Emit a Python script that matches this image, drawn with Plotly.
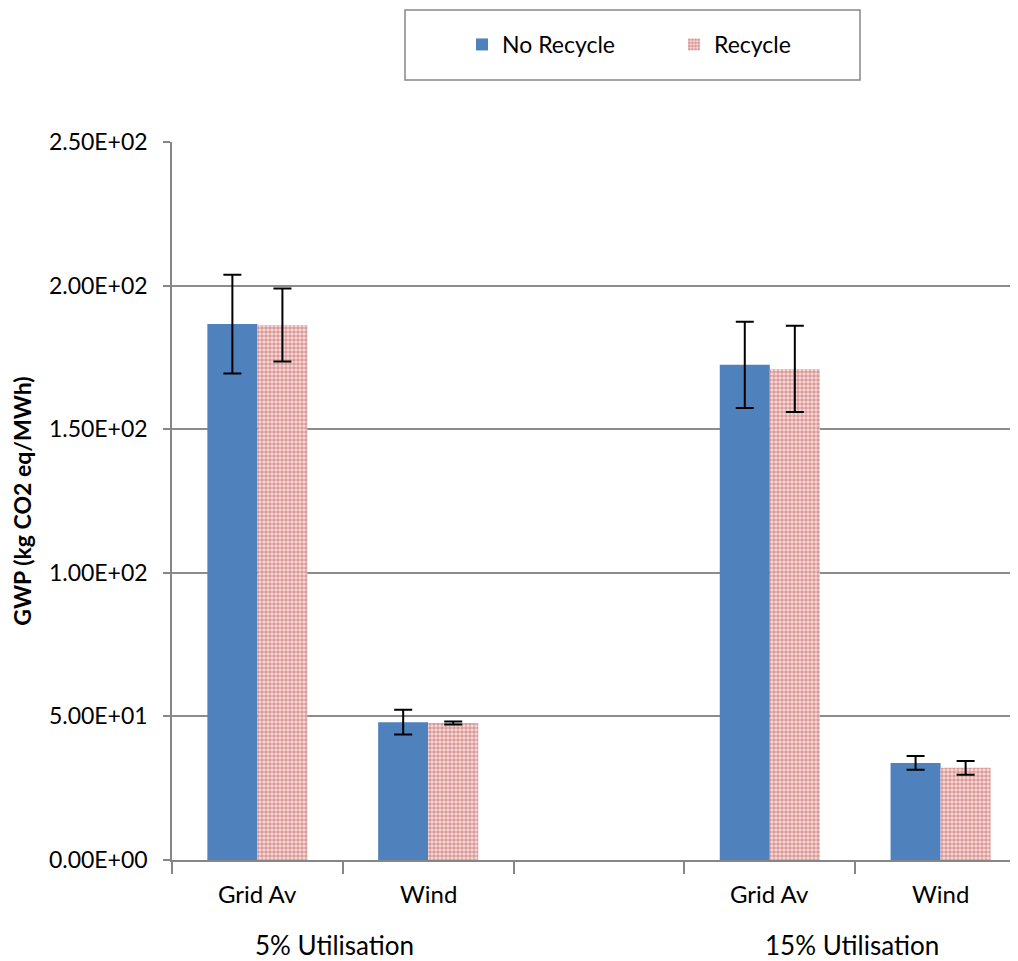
import plotly.graph_objects as go

categories = ["Grid Av", "Wind", "", "Grid Av", "Wind"]
groups = ["5% Utilisation", "15% Utilisation"]
group_centers = [0.45, 3.48]
no_recycle = [186.6, 48.0, None, 172.4, 33.8]
no_recycle_err = [17.2, 4.3, None, 15.0, 2.4]
recycle = [186.3, 47.7, None, 171.0, 32.1]
recycle_err = [12.7, 0.5, None, 15.0, 2.4]
y_ticks = [0, 50, 100, 150, 200, 250]
y_tick_labels = ["0.00E+00", "5.00E+01", "1.00E+02", "1.50E+02", "2.00E+02", "2.50E+02"]

FONT = "Lato"
x = list(range(len(categories)))

# screen geometry (page has 8px body margin)
OX, OY = 172, 860      # plot origin on screen
PW, PH = 854, 718      # plot width / height

fig = go.Figure()
fig.add_trace(go.Bar(
    x=x, y=no_recycle, name="No Recycle",
    marker=dict(color="#4F81BD", line=dict(width=0)),
    error_y=dict(type="data", array=no_recycle_err, color="black", thickness=2, width=9),
))
fig.add_trace(go.Bar(
    x=x, y=recycle, name="Recycle",
    marker=dict(color="white", line=dict(width=0),
                pattern=dict(shape=".", fgcolor="#C0504D", bgcolor="#F6E0DF", size=4, solidity=0.65)),
    error_y=dict(type="data", array=recycle_err, color="black", thickness=2, width=9),
))

boundaries = [i - 0.5 for i in range(len(categories) + 1)]

fig.update_layout(
    width=1018, height=961,
    margin=dict(l=164, r=0, t=134, b=109, autoexpand=False),
    paper_bgcolor="white", plot_bgcolor="white",
    barmode="group", bargap=0.414, bargroupgap=0,
    font=dict(family=FONT, size=23, color="black"),
    showlegend=True,
    legend=dict(orientation="h", x=(462 - OX) / PW, xanchor="left",
                y=(OY - 23) / PH, yanchor="top",
                font=dict(family=FONT, size=23), entrywidth=167,
                bgcolor="rgba(0,0,0,0)", borderwidth=0),
    xaxis=dict(range=[-0.5, 4.5], tickvals=boundaries, ticktext=[""] * len(boundaries),
               ticks="outside", ticklen=12, tickcolor="#868686", tickwidth=1.5,
               showgrid=False, showline=True, linecolor="#868686", linewidth=1.5, zeroline=False,
               fixedrange=True),
    yaxis=dict(range=[0, 250], tickvals=y_ticks, ticktext=y_tick_labels,
               ticks="outside", ticklen=7, tickcolor="#868686", tickwidth=1.5,
               ticklabelstandoff=11,
               showgrid=True, gridcolor="#8c8c8c", gridwidth=1.5,
               showline=True, linecolor="#868686", linewidth=1.5, zeroline=False,
               tickfont=dict(family=FONT, size=23),
               title=dict(text="<b>GWP (kg CO2 eq/MWh)</b>", font=dict(family=FONT, size=23), standoff=22)),
)

# legend border box
fig.add_shape(type="rect", xref="paper", yref="paper",
              x0=(405 - OX) / PW, x1=(860 - OX) / PW,
              y0=(OY - 80) / PH, y1=(OY - 10) / PH,
              line=dict(color="#868686", width=1.5), fillcolor="rgba(0,0,0,0)")

for i, c in enumerate(categories):
    if c:
        fig.add_annotation(x=i, y=0, xref="x", yref="paper", yshift=-50, text=c,
                           showarrow=False, font=dict(family=FONT, size=24))
for g, cx in zip(groups, group_centers):
    fig.add_annotation(x=cx, y=0, xref="x", yref="paper", yshift=-103, text=g,
                       showarrow=False, font=dict(family=FONT, size=26))

fig.write_html("out.html")
